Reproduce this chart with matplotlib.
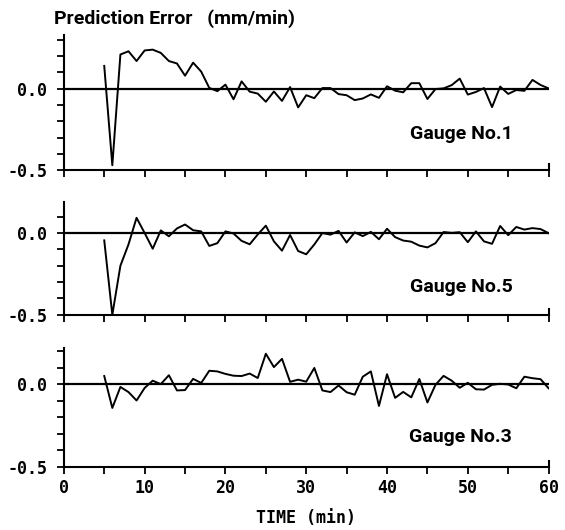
import numpy as np
import matplotlib.pyplot as plt

plt.rcParams['font.family'] = ['Roboto', 'DejaVu Sans']
plt.rcParams['axes.unicode_minus'] = False
MONO = 'DejaVu Sans Mono'

# time in minutes (one point per minute)
time = list(range(5, 61))

gauge1 = [0.14, -0.47, 0.21, 0.23, 0.17, 0.235, 0.24, 0.22, 0.17, 0.155,
          0.08, 0.16, 0.105, 0.005, -0.015, 0.025, -0.065, 0.045, -0.018, -0.03,
          -0.08, -0.017, -0.075, 0.01, -0.115, -0.04, -0.058, 0.004, 0.004, -0.033,
          -0.04, -0.07, -0.06, -0.035, -0.056, 0.015, -0.012, -0.022, 0.034, 0.034,
          -0.063, -0.002, 0.002, 0.022, 0.062, -0.036, -0.02, 0.004, -0.113, 0.013,
          -0.032, -0.008, -0.013, 0.054, 0.023, 0.002]

gauge5 = [-0.045, -0.50, -0.20, -0.07, 0.093, 0.0, -0.096, 0.016, -0.02, 0.028,
          0.052, 0.017, 0.01, -0.079, -0.062, 0.01, -0.003, -0.048, -0.069, -0.009,
          0.045, -0.051, -0.108, -0.012, -0.11, -0.13, -0.07, 0.0, -0.01, 0.013,
          -0.058, 0.004, -0.019, 0.007, -0.038, 0.026, -0.025, -0.046, -0.053, -0.077,
          -0.088, -0.062, 0.006, 0.001, 0.005, -0.056, 0.01, -0.051, -0.066, 0.043,
          -0.013, 0.037, 0.021, 0.03, 0.024, -0.001]

gauge3 = [0.05, -0.143, -0.016, -0.047, -0.098, -0.022, 0.022, 0.001, 0.055, -0.037,
          -0.035, 0.033, 0.008, 0.082, 0.078, 0.063, 0.052, 0.05, 0.065, 0.038,
          0.185, 0.104, 0.154, 0.015, 0.028, 0.016, 0.099, -0.037, -0.047, -0.007,
          -0.048, -0.063, 0.046, 0.078, -0.131, 0.061, -0.082, -0.046, -0.079, 0.032,
          -0.11, -0.003, 0.051, 0.022, -0.021, 0.009, -0.03, -0.032, -0.003, 0.003,
          -0.001, -0.024, 0.046, 0.037, 0.031, -0.024]

series = [gauge1, gauge5, gauge3]
labels = ['Gauge No.1', 'Gauge No.5', 'Gauge No.3']
ytops = [0.33, 0.19, 0.22]
xtick_labels = ['0', '10', '20', '30', '40', '50', '60']
ytick_labels = ['-0.5', '0.0']

fig = plt.figure(figsize=(5.65, 5.30), dpi=100)
boxes = [[0.113, 0.679, 0.858, 0.255],
         [0.113, 0.406, 0.858, 0.213],
         [0.113, 0.119, 0.858, 0.2245]]

for i, (vals, lab, top, box) in enumerate(zip(series, labels, ytops, boxes)):
    ax = fig.add_axes(box)
    ax.plot(time, vals, color='black', lw=1.4)
    ax.axhline(0, color='black', lw=1.6)
    ax.set_xlim(0, 60)
    ax.set_ylim(-0.5, top)
    ax.spines['top'].set_visible(False)
    ax.spines['right'].set_bounds(-0.5, -0.465)
    for s in ['left', 'bottom', 'right']:
        ax.spines[s].set_linewidth(1.5)
    ax.set_yticks([-0.5, 0.0], labels=ytick_labels)
    ax.set_yticks(np.arange(-0.5, top + 0.001, 0.1), minor=True)
    ax.set_xticks(np.arange(0, 61, 5), minor=True)
    ax.set_xticks(np.arange(0, 61, 10))
    ax.tick_params(which='both', length=5, width=1.3, direction='out')
    ax.tick_params(axis='y', pad=7)
    for t in ax.get_yticklabels():
        t.set_fontfamily(MONO)
        t.set_fontweight('bold')
        t.set_fontsize(12)
    if i == 2:
        ax.set_xticklabels(xtick_labels, fontsize=12, fontweight='bold', fontfamily=MONO)
        ax.set_xlabel('TIME (min)', fontsize=12, fontweight='bold', fontfamily=MONO,
                      labelpad=9)
    else:
        ax.set_xticklabels([])
    ax.text(0.925, [0.27, 0.25, 0.25][i], lab, transform=ax.transAxes,
            ha='right', va='center', fontsize=14, fontweight='bold')
    if i == 0:
        ax.text(-0.02, 1.12, 'Prediction Error   (mm/min)', transform=ax.transAxes,
                ha='left', va='center', fontsize=14, fontweight='bold')

fig.savefig('out.png', dpi=100)
